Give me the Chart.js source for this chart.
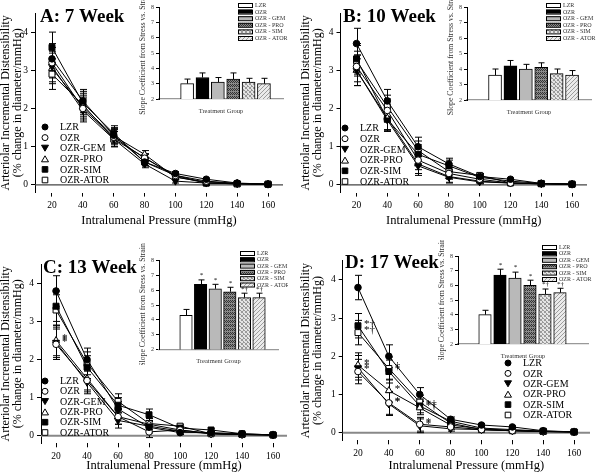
<!DOCTYPE html>
<html>
<head>
<meta charset="utf-8">
<script src="https://cdn.jsdelivr.net/npm/chart.js@4.4.1/dist/chart.umd.min.js"></script>
<style>
  body { margin: 0; background: #fff; }
  #fig { position: relative; width: 600px; height: 475px; overflow: hidden; background: #fff; }
  #fig canvas { position: absolute; }
</style>
</head>
<body>
<div id="fig">
  <canvas id="lineA" width="300" height="230" style="left:0px;top:0px"></canvas>
  <canvas id="lineB" width="300" height="230" style="left:300px;top:0px"></canvas>
  <canvas id="lineC" width="300" height="245" style="left:0px;top:230px"></canvas>
  <canvas id="lineD" width="300" height="245" style="left:300px;top:230px"></canvas>
  <canvas id="barA" width="152" height="115" style="left:138px;top:0px"></canvas>
  <canvas id="barB" width="152" height="116" style="left:446px;top:0px"></canvas>
  <canvas id="barC" width="150" height="125" style="left:138px;top:240px"></canvas>
  <canvas id="barD" width="155" height="120" style="left:437px;top:240px"></canvas>
</div>
<script>
const pressures = [20, 40, 60, 80, 100, 120, 140, 160];
const groups = ['LZR', 'OZR', 'OZR-GEM', 'OZR-PRO', 'OZR-SIM', 'OZR-ATOR'];
const barGroups = ['LZR', 'OZR', 'OZR - GEM', 'OZR - PRO', 'OZR - SIM', 'OZR - ATOR'];
const pressureTicks = [20, 40, 60, 80, 100, 120, 140, 160];
const distTicks = [0, 1, 2, 3, 4];
const slopeTicks = [2, 3, 4, 5, 6, 7, 8];

// 7 week
const lzr7  = [3.3, 2.2, 1.3, 0.6, 0.3, 0.15, 0.05, 0.02];
const ozr7  = [3.2, 2.0, 1.25, 0.7, 0.25, 0.1, 0.04, 0.02];
const gem7  = [3.1, 1.95, 1.2, 0.55, 0.1, 0.05, 0.03, 0.02];
const pro7  = [3.05, 2.05, 1.28, 0.8, 0.2, 0.08, 0.04, 0.02];
const sim7  = [3.6, 2.15, 1.35, 0.6, 0.25, 0.05, 0.03, 0.02];
const ator7 = [2.9, 2.1, 1.2, 0.72, 0.22, 0.05, 0.03, 0.02];
const sem7  = [0.4, 0.3, 0.2, 0.1, 0.05, 0.03, 0.02, 0.02];
const slope7 = [3.0, 3.4, 3.1, 3.3, 3.1, 3.0];
const slopeSem7 = [0.3, 0.3, 0.3, 0.4, 0.25, 0.35];
const slopeSig7 = ['', '', '', '', '', ''];
const sig7 = [];

// 10 week
const lzr10  = [3.7, 2.2, 1.0, 0.55, 0.22, 0.15, 0.04, 0.02];
const ozr10  = [3.1, 1.95, 0.65, 0.3, 0.15, 0.05, 0.04, 0.02];
const gem10  = [3.0, 1.7, 0.5, 0.2, 0.08, 0.05, 0.03, 0.02];
const pro10  = [3.0, 1.75, 0.55, 0.22, 0.1, 0.05, 0.03, 0.02];
const sim10  = [3.3, 1.72, 0.8, 0.5, 0.2, 0.1, 0.04, 0.02];
const ator10 = [3.25, 2.05, 0.9, 0.35, 0.25, 0.05, 0.03, 0.02];
const sem10  = [0.4, 0.3, 0.25, 0.15, 0.05, 0.03, 0.02, 0.02];
const slope10 = [3.6, 4.2, 4.0, 4.1, 3.7, 3.6];
const slopeSem10 = [0.4, 0.35, 0.3, 0.3, 0.3, 0.3];
const slopeSig10 = ['', '', '', '', '', ''];
const sig10 = [];

// 13 week
const lzr13  = [3.8, 2.0, 0.7, 0.22, 0.08, 0.08, 0.05, 0.02];
const ozr13  = [2.4, 1.45, 0.5, 0.1, 0.15, 0.05, 0.03, 0.02];
const gem13  = [2.45, 1.4, 0.4, 0.25, 0.12, 0.05, 0.03, 0.02];
const pro13  = [2.5, 1.5, 0.5, 0.3, 0.15, 0.06, 0.03, 0.02];
const sim13  = [3.4, 1.8, 0.8, 0.55, 0.2, 0.15, 0.05, 0.02];
const ator13 = [3.3, 1.9, 0.9, 0.32, 0.25, 0.05, 0.03, 0.02];
const sem13  = [0.4, 0.3, 0.2, 0.15, 0.05, 0.03, 0.02, 0.02];
const slope13 = [4.3, 6.4, 6.1, 5.9, 5.5, 5.5];
const slopeSem13 = [0.4, 0.3, 0.3, 0.3, 0.3, 0.3];
const slopeSig13 = ['', '*', '*', '*', '*\u2020', '*\u2020'];
const sig13 = [['OZR', 20, '*'], ['OZR-GEM', 20, '*'], ['OZR-PRO', 20, '*']];

// 17 week
const lzr17  = [3.8, 2.0, 1.0, 0.35, 0.2, 0.15, 0.05, 0.02];
const ozr17  = [1.6, 0.78, 0.22, 0.15, 0.08, 0.05, 0.03, 0.02];
const gem17  = [1.7, 0.75, 0.18, 0.1, 0.08, 0.05, 0.03, 0.02];
const pro17  = [1.77, 1.1, 0.65, 0.2, 0.1, 0.06, 0.03, 0.02];
const sim17  = [2.8, 1.6, 0.7, 0.3, 0.12, 0.08, 0.04, 0.02];
const ator17 = [2.62, 1.68, 0.8, 0.25, 0.08, 0.05, 0.03, 0.02];
const sem17  = [0.32, 0.3, 0.18, 0.06, 0.04, 0.03, 0.02, 0.02];
const slope17 = [4.0, 6.7, 6.5, 6.0, 5.4, 5.5];
const slopeSem17 = [0.3, 0.4, 0.4, 0.35, 0.35, 0.3];
const slopeSig17 = ['', '*', '*', '*', '*\u2020', '*\u2020'];
const sig17 = [
  ['OZR-SIM', 20, '*\u2020'], ['OZR-ATOR', 20, '*\u2020'], ['OZR-PRO', 20, '*'], ['OZR-GEM', 20, '*'], ['OZR', 20, '*'],
  ['OZR-ATOR', 40, '\u2020'], ['OZR-SIM', 40, '*'], ['OZR-PRO', 40, '*'], ['OZR-GEM', 40, '*'], ['OZR', 40, '*'],
  ['OZR-SIM', 60, '*\u2020'], ['OZR-PRO', 60, '*\u2020'], ['OZR-GEM', 60, '*'], ['OZR', 60, '*']
];

const SERIF = "'Liberation Serif', 'DejaVu Serif', serif";
Chart.defaults.font.family = SERIF;
Chart.defaults.color = '#000';

// marker per group: LZR ●, OZR ○, GEM ▼, PRO △, SIM ■, ATOR □
const marks = [
  { style: 'circle', fill: '#000', rot: 0, r: 3.3 },
  { style: 'circle', fill: '#fff', rot: 0, r: 3.3 },
  { style: 'triangle', fill: '#000', rot: 180, r: 4 },
  { style: 'triangle', fill: '#fff', rot: 0, r: 4 },
  { style: 'rect', fill: '#000', rot: 0, r: 4.2 },
  { style: 'rect', fill: '#fff', rot: 0, r: 4.2 }
];

function drawMark(ctx, i, x, y) {
  const m = marks[i];
  ctx.save();
  ctx.fillStyle = m.fill;
  ctx.strokeStyle = '#000';
  ctx.lineWidth = 1;
  ctx.beginPath();
  if (m.style === 'circle') {
    ctx.arc(x, y, 3, 0, Math.PI * 2);
  } else if (m.style === 'triangle' && m.rot) {
    ctx.moveTo(x - 3.5, y - 3); ctx.lineTo(x + 3.5, y - 3); ctx.lineTo(x, y + 3); ctx.closePath();
  } else if (m.style === 'triangle') {
    ctx.moveTo(x - 3.5, y + 3); ctx.lineTo(x + 3.5, y + 3); ctx.lineTo(x, y - 3); ctx.closePath();
  } else {
    ctx.rect(x - 2.8, y - 2.8, 5.6, 5.6);
  }
  ctx.fill();
  ctx.stroke();
  ctx.restore();
}

// bar fills
function makePattern(kind) {
  const c = document.createElement('canvas');
  c.width = 4; c.height = 4;
  const g = c.getContext('2d');
  if (kind === 'pro') {
    g.fillStyle = '#8a8a8a'; g.fillRect(0, 0, 4, 4);
    g.fillStyle = '#333';
    g.fillRect(0, 0, 1, 1); g.fillRect(2, 0, 1, 1); g.fillRect(1, 1, 1, 1); g.fillRect(3, 1, 1, 1);
    g.fillRect(0, 2, 1, 1); g.fillRect(2, 2, 1, 1);
  } else if (kind === 'sim') {
    g.fillStyle = '#e4e4e4'; g.fillRect(0, 0, 4, 4);
    g.fillStyle = '#9a9a9a';
    g.fillRect(0, 0, 1, 1); g.fillRect(1, 1, 1, 1); g.fillRect(2, 2, 1, 1); g.fillRect(3, 3, 1, 1);
    g.fillRect(3, 0, 1, 1); g.fillRect(1, 2, 1, 1); g.fillRect(0, 3, 1, 1);
  } else {
    g.fillStyle = '#ebebeb'; g.fillRect(0, 0, 4, 4);
    g.fillStyle = '#9d9d9d';
    g.fillRect(3, 0, 1, 1); g.fillRect(2, 1, 1, 1); g.fillRect(1, 2, 1, 1); g.fillRect(0, 3, 1, 1);
  }
  return g.createPattern(c, 'repeat');
}
const barFills = ['#fff', '#000', '#b9b9b9', makePattern('pro'), makePattern('sim'), makePattern('ator')];

function lineChart(id, p) {
  const extras = {
    id: 'extras' + id,
    beforeDatasetsDraw(chart) {
      const { ctx, chartArea: a, scales: { x, y } } = chart;
      ctx.save();
      ctx.strokeStyle = p.zeroColor;
      ctx.lineWidth = p.zeroWidth;
      ctx.beginPath();
      ctx.moveTo(a.left, y.getPixelForValue(0));
      ctx.lineTo(a.right, y.getPixelForValue(0));
      ctx.stroke();
      ctx.strokeStyle = '#000';
      ctx.lineWidth = 1;
      p.series.forEach(vals => {
        vals.forEach((v, j) => {
          const px = Math.round(x.getPixelForValue(pressures[j])) + 0.5;
          const top = y.getPixelForValue(v + p.sem[j]);
          const bot = y.getPixelForValue(v - p.sem[j]);
          ctx.beginPath();
          ctx.moveTo(px, top); ctx.lineTo(px, bot);
          ctx.moveTo(px - 3.5, top); ctx.lineTo(px + 3.5, top);
          ctx.moveTo(px - 3.5, bot); ctx.lineTo(px + 3.5, bot);
          ctx.stroke();
        });
      });
      ctx.restore();
    },
    afterDatasetsDraw(chart) {
      const { ctx, scales: { x, y } } = chart;
      ctx.save();
      ctx.fillStyle = '#000';
      ctx.textBaseline = 'middle';
      ctx.font = `bold 19px ${SERIF}`;
      ctx.fillText(p.title, p.titleX, p.titleY);
      ctx.font = `10px ${SERIF}`;
      groups.forEach((g, i) => {
        const ly = p.legY + i * p.legGap;
        drawMark(ctx, i, p.legX, ly);
        ctx.fillStyle = '#000';
        ctx.fillText(g, p.legX + 15, ly + 0.5);
      });
      ctx.font = `11px ${SERIF}`;
      p.sig.forEach(([g, pr, txt]) => {
        const i = groups.indexOf(g);
        const j = pressures.indexOf(pr);
        ctx.fillText(txt, x.getPixelForValue(pr) + 6, y.getPixelForValue(p.series[i][j]) - 2);
      });
      ctx.restore();
    }
  };
  return new Chart(document.getElementById(id), {
    type: 'line',
    data: {
      datasets: p.series.map((vals, i) => ({
        label: groups[i],
        data: vals.map((v, j) => ({ x: pressures[j], y: v })),
        borderColor: '#000',
        borderWidth: 1,
        tension: 0,
        fill: false,
        pointStyle: marks[i].style,
        pointRotation: marks[i].rot,
        pointRadius: marks[i].r,
        pointBackgroundColor: marks[i].fill,
        pointBorderColor: '#000',
        pointBorderWidth: 1
      }))
    },
    options: {
      responsive: false,
      animation: false,
      events: [],
      layout: { padding: { left: 0, top: p.top, right: p.w - p.right, bottom: 0 } },
      plugins: { legend: { display: false }, tooltip: { enabled: false } },
      scales: {
        x: {
          type: 'linear', min: p.xMin, max: p.xMax,
          afterBuildTicks: s => { s.ticks = pressureTicks.map(v => ({ value: v })); },
          afterFit: s => { s.height = p.h - p.bottom; },
          grid: { drawOnChartArea: false, drawTicks: true, tickLength: 4, color: '#000' },
          border: { display: false },
          ticks: { font: { size: 9.5 }, color: '#000', padding: 3, maxRotation: 0 },
          title: { display: true, text: 'Intralumenal Pressure (mmHg)', font: { size: 12.5 }, color: '#000', padding: { top: 2, bottom: 2 } }
        },
        y: {
          min: -0.2, max: 4.5,
          afterBuildTicks: s => { s.ticks = distTicks.map(v => ({ value: v })); },
          afterFit: s => { s.width = p.left; },
          grid: { drawOnChartArea: false, drawTicks: true, tickLength: 4, color: '#000' },
          border: { color: '#000' },
          ticks: { font: { size: 9.5 }, color: '#000', padding: 3 },
          title: {
            display: true,
            text: ['Arteriolar Incremental Distensibility', '(% change in diameter/mmHg)'],
            font: { size: 12, lineHeight: 1.0 }, color: '#000', padding: 0
          }
        }
      }
    },
    plugins: [extras]
  });
}

function barChart(id, p) {
  const extras = {
    id: 'barExtras' + id,
    afterDatasetsDraw(chart) {
      const { ctx, scales: { x, y } } = chart;
      ctx.save();
      ctx.strokeStyle = '#000';
      ctx.lineWidth = 1;
      p.values.forEach((v, i) => {
        const px = Math.round(x.getPixelForValue(i + 1)) + 0.5;
        const top = y.getPixelForValue(v + p.sem[i]);
        const base = y.getPixelForValue(v);
        ctx.beginPath();
        ctx.moveTo(px, base); ctx.lineTo(px, top);
        ctx.moveTo(px - 3, top); ctx.lineTo(px + 3, top);
        ctx.stroke();
        if (p.sig[i]) {
          ctx.fillStyle = '#000';
          ctx.font = `7px ${SERIF}`;
          ctx.textAlign = 'center';
          ctx.textBaseline = 'bottom';
          ctx.fillText(p.sig[i], px, top - 1);
        }
      });
      ctx.textAlign = 'left';
      ctx.textBaseline = 'middle';
      ctx.font = `6px ${SERIF}`;
      barGroups.forEach((g, i) => {
        const ly = p.legY + i * p.legGap;
        ctx.fillStyle = barFills[i];
        ctx.fillRect(p.legX, ly - 2, 14, 4);
        ctx.strokeStyle = '#000';
        ctx.strokeRect(p.legX + 0.5, ly - 2 + 0.5, 14, 4);
        ctx.fillStyle = '#333';
        ctx.fillText(g, p.legX + 17, ly + 0.5);
      });
      ctx.restore();
    }
  };
  return new Chart(document.getElementById(id), {
    type: 'bar',
    data: {
      datasets: [{
        data: p.values.map((v, i) => ({ x: i + 1, y: v, g: barGroups[i] })),
        backgroundColor: barFills,
        borderColor: '#000',
        borderWidth: 1,
        borderSkipped: 'bottom',
        barThickness: p.barW
      }]
    },
    options: {
      responsive: false,
      animation: false,
      events: [],
      layout: { padding: { left: 0, top: p.top, right: p.w - p.right, bottom: 0 } },
      plugins: { legend: { display: false }, tooltip: { enabled: false } },
      scales: {
        x: {
          type: 'linear', min: p.xMin, max: p.xMax, offset: false,
          afterFit: s => { s.height = p.h - p.bottom; },
          grid: { display: false },
          border: { color: '#999', width: 1.2 },
          ticks: { display: false },
          title: { display: true, text: 'Treatment Group', font: { size: 6.5 }, color: '#333', padding: { top: 3, bottom: 0 } }
        },
        y: {
          min: 2, max: 8,
          afterBuildTicks: s => { s.ticks = slopeTicks.map(v => ({ value: v })); },
          afterFit: s => { s.width = p.left; },
          grid: { drawOnChartArea: false, drawTicks: true, tickLength: 3, color: '#000' },
          border: { color: '#000' },
          ticks: { font: { size: 6 }, color: '#333', padding: 2 },
          title: { display: true, text: 'Slope Coefficient from Stress vs. Strain', font: { size: 7.8 }, color: '#333', padding: { top: 0, bottom: 2 } }
        }
      }
    },
    plugins: [extras]
  });
}

lineChart('lineA', {
  w: 300, h: 230, left: 35, right: 283, top: 13, bottom: 192.6, xMin: 9, xMax: 169.7,
  series: [lzr7, ozr7, gem7, pro7, sim7, ator7], sem: sem7, sig: sig7,
  title: 'A: 7 Week', titleX: 40, titleY: 17,
  legX: 45, legY: 127, legGap: 10.6, zeroColor: '#444', zeroWidth: 1.2
});
lineChart('lineB', {
  w: 300, h: 230, left: 40.5, right: 287, top: 13, bottom: 192.6, xMin: 9.6, xMax: 169.7,
  series: [lzr10, ozr10, gem10, pro10, sim10, ator10], sem: sem10, sig: sig10,
  title: 'B: 10 Week', titleX: 43, titleY: 17,
  legX: 45, legY: 128, legGap: 10.7, zeroColor: '#444', zeroWidth: 1.2
});
lineChart('lineC', {
  w: 300, h: 245, left: 41, right: 287, top: 34.3, bottom: 213.3, xMin: 10.3, xMax: 169,
  series: [lzr13, ozr13, gem13, pro13, sim13, ator13], sem: sem13, sig: sig13,
  title: 'C: 13 Week', titleX: 43, titleY: 38,
  legX: 45, legY: 151, legGap: 10.3, zeroColor: '#888', zeroWidth: 2
});
lineChart('lineD', {
  w: 300, h: 245, left: 42.7, right: 290, top: 30.8, bottom: 210.3, xMin: 10.1, xMax: 170.3,
  series: [lzr17, ozr17, gem17, pro17, sim17, ator17], sem: sem17, sig: sig17,
  title: 'D: 17 Week', titleX: 45, titleY: 33,
  legX: 208, legY: 133, legGap: 10.4, zeroColor: '#888', zeroWidth: 2
});

barChart('barA', {
  w: 152, h: 115, left: 21, right: 145, top: 7, bottom: 99, xMin: -0.83, xMax: 7.24, barW: 13,
  values: slope7, sem: slopeSem7, sig: slopeSig7, legX: 100, legY: 5, legGap: 6.6
});
barChart('barB', {
  w: 152, h: 116, left: 21, right: 145, top: 7, bottom: 100, xMin: -0.82, xMax: 7.23, barW: 13,
  values: slope10, sem: slopeSem10, sig: slopeSig10, legX: 100, legY: 5, legGap: 6.6
});
barChart('barC', {
  w: 150, h: 125, left: 21, right: 140, top: 20.7, bottom: 109.3, xMin: -0.85, xMax: 7.3, barW: 12.5,
  values: slope13, sem: slopeSem13, sig: slopeSig13, legX: 102, legY: 13, legGap: 6.3
});
barChart('barD', {
  w: 155, h: 120, left: 21, right: 151, top: 16, bottom: 104, xMin: -0.8, xMax: 7.87, barW: 12.5,
  values: slope17, sem: slopeSem17, sig: slopeSig17, legX: 105, legY: 7, legGap: 6.4
});
</script>
</body>
</html>
